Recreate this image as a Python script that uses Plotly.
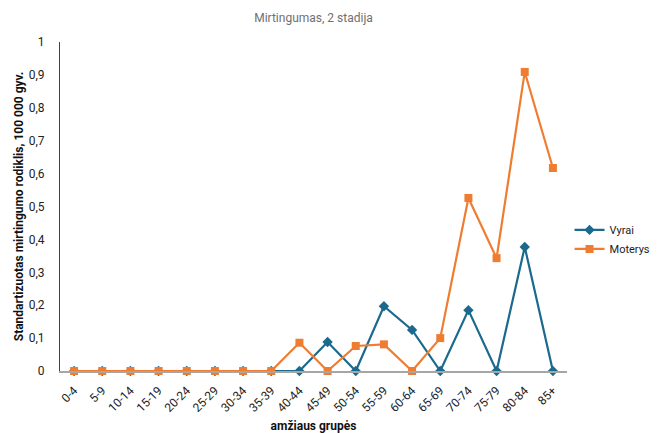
import plotly.graph_objects as go

# Age groups and standardized mortality rates per 100 000 population
age_groups = ["0-4", "5-9", "10-14", "15-19", "20-24", "25-29", "30-34", "35-39",
              "40-44", "45-49", "50-54", "55-59", "60-64", "65-69", "70-74",
              "75-79", "80-84", "85+"]
vyrai = [0, 0, 0, 0, 0, 0, 0, 0, 0, 0.088, 0, 0.197, 0.125, 0, 0.185, 0, 0.377, 0]
moterys = [0, 0, 0, 0, 0, 0, 0, 0, 0.086, 0, 0.076, 0.081, 0, 0.1, 0.526, 0.343, 0.909, 0.617]
y_ticks = [0, 0.1, 0.2, 0.3, 0.4, 0.5, 0.6, 0.7, 0.8, 0.9, 1]

BLUE = "#1B6A8E"
ORANGE = "#EE7D31"
FONT = "Roboto"

fig = go.Figure()
fig.add_trace(go.Scatter(
    x=age_groups, y=vyrai, name="Vyrai", mode="lines+markers",
    line=dict(color=BLUE, width=2.2),
    marker=dict(symbol="diamond", size=8, color=BLUE),
    cliponaxis=False,
))
fig.add_trace(go.Scatter(
    x=age_groups, y=moterys, name="Moterys", mode="lines+markers",
    line=dict(color=ORANGE, width=2.2),
    marker=dict(symbol="square", size=8, color=ORANGE),
    cliponaxis=False,
))

fig.update_layout(
    width=658, height=433,
    margin=dict(l=60, r=91, t=42, b=62, autoexpand=False),
    paper_bgcolor="white", plot_bgcolor="white",
    separators=", ",
    font=dict(family=FONT, size=12, color="#222222"),
    title=dict(text="Mirtingumas, 2 stadija", x=0.5, xref="paper", xanchor="center",
               y=1 - 18 / 433, yanchor="middle",
               font=dict(family=FONT, size=12, color="#707070")),
    showlegend=True,
    legend=dict(x=1.005, xanchor="left", y=0.40, yanchor="middle",
                font=dict(family=FONT, size=11, color="#222222"),
                itemwidth=30, tracegroupgap=4, bgcolor="rgba(0,0,0,0)"),
)

fig.update_xaxes(
    type="category", range=[-0.5, len(age_groups) - 0.5],
    tickangle=-45, showgrid=False, showline=True, linecolor="#A6A6A6", linewidth=1.5,
    ticks="", ticklabelstandoff=6, automargin=False,
    tickfont=dict(family=FONT, size=12, color="#222222"),
    title=dict(text="<b>amžiaus grupės</b>", standoff=10,
               font=dict(family=FONT, size=12, color="#111111")),
    zeroline=False,
)
fig.update_yaxes(
    range=[0, 1], tickvals=y_ticks, tickformat=",.1~f",
    showgrid=False, showline=True, linecolor="#404040", linewidth=1,
    ticks="", ticklabelstandoff=12, zeroline=False, automargin=False,
    tickfont=dict(family=FONT, size=12, color="#222222"),
    title=dict(text="<b>Standartizuotas mirtingumo rodiklis, 100 000 gyv.</b>", standoff=2,
               font=dict(family=FONT, size=12, color="#111111")),
)

fig.write_html("out.html")
